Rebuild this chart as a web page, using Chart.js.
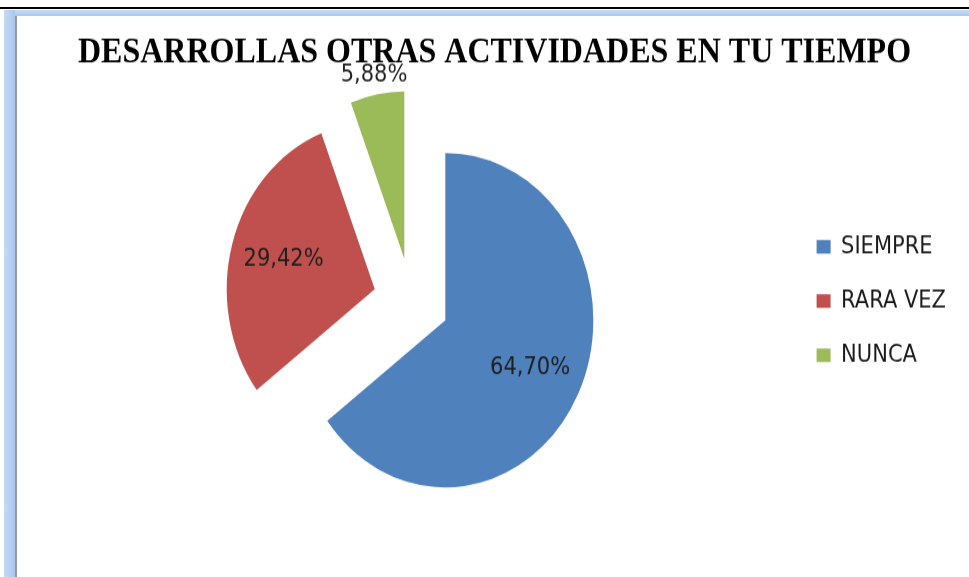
<!DOCTYPE html>
<html>
<head>
<meta charset="utf-8">
<script src="https://cdn.jsdelivr.net/npm/chart.js@4/dist/chart.umd.min.js"></script>
<style>
  html, body { margin: 0; padding: 0; background: #fff; overflow: hidden; width: 969px; height: 577px; }
  #rule { position: absolute; left: 0; top: 7px; width: 969px; height: 2px; background: #000; }
  #frameTop { position: absolute; left: 4px; top: 10px; width: 965px; height: 6px; background: linear-gradient(#c4dbf6, #a9c7ee); }
  #frameLeft { position: absolute; left: 4px; top: 10px; width: 11px; height: 567px; background: linear-gradient(90deg, #c4dbf6, #a9c7ee); }
  #frameLine { position: absolute; left: 15px; top: 16px; width: 2px; height: 561px; background: #9a9a9a; }
  #wrap { position: absolute; left: 17px; top: 16px; width: 955px; height: 497px; transform: scaleY(1.13); transform-origin: 0 0; }
</style>
</head>
<body>
<div id="rule"></div>
<div id="frameTop"></div>
<div id="frameLeft"></div>
<div id="frameLine"></div>
<div id="wrap"><canvas id="chart" width="955" height="497"></canvas></div>
<script>
const chartTitle = 'DESARROLLAS OTRAS ACTIVIDADES EN TU TIEMPO';
const categories = ['SIEMPRE', 'RARA VEZ', 'NUNCA'];
const percentages = [64.70, 29.42, 5.88];
const sliceColors = ['#4f81bd', '#c0504d', '#9bbb59'];

const fmt = v => v.toFixed(2).replace('.', ',') + '%';

// every slice pulled out from the centre by the same distance (exploded pie)
const explode = {
    id: 'explode',
    afterDatasetUpdate(chart, args, opts) {
        for (const arc of args.meta.data) {
            const mid = (arc.startAngle + arc.endAngle) / 2;
            arc.x += Math.cos(mid) * opts.distance;
            arc.y += Math.sin(mid) * opts.distance;
        }
    }
};

// percentage labels, inside the slice, or outside when the slice is thin
const sliceLabels = {
    id: 'sliceLabels',
    afterDatasetsDraw(chart) {
        const ctx = chart.ctx;
        const meta = chart.getDatasetMeta(0);
        ctx.save();
        ctx.font = '21px "DejaVu Sans"';
        ctx.fillStyle = '#1f1f1f';
        ctx.textAlign = 'center';
        ctx.textBaseline = 'middle';
        meta.data.forEach((arc, i) => {
            const mid = (arc.startAngle + arc.endAngle) / 2;
            const r = percentages[i] < 10 ? arc.outerRadius + 17 : arc.outerRadius * 0.64;
            ctx.fillText(fmt(percentages[i]), arc.x + Math.cos(mid) * r, arc.y + Math.sin(mid) * r);
        });
        ctx.restore();
    }
};

new Chart(document.getElementById('chart'), {
    type: 'pie',
    data: {
        labels: categories,
        datasets: [{
            data: percentages,
            backgroundColor: sliceColors,
            borderWidth: 0,
            radius: 148
        }]
    },
    options: {
        responsive: false,
        animation: false,
        events: [],
        layout: { padding: { left: 16, right: 16, top: 0, bottom: 45 } },
        plugins: {
            explode: { distance: 38 },
            tooltip: { enabled: false },
            title: {
                display: true,
                text: chartTitle,
                color: '#000',
                font: { family: '"Liberation Serif", "Times New Roman", serif', size: 32, weight: 'bold' },
                padding: { top: 14, bottom: 0 }
            },
            legend: {
                position: 'right',
                fullSize: false,
                labels: {
                    boxWidth: 14,
                    boxHeight: 12,
                    padding: 27,
                    color: '#1a1a1a',
                    font: { family: '"DejaVu Sans"', size: 21 }
                }
            }
        }
    },
    plugins: [explode, sliceLabels]
});
</script>
</body>
</html>
